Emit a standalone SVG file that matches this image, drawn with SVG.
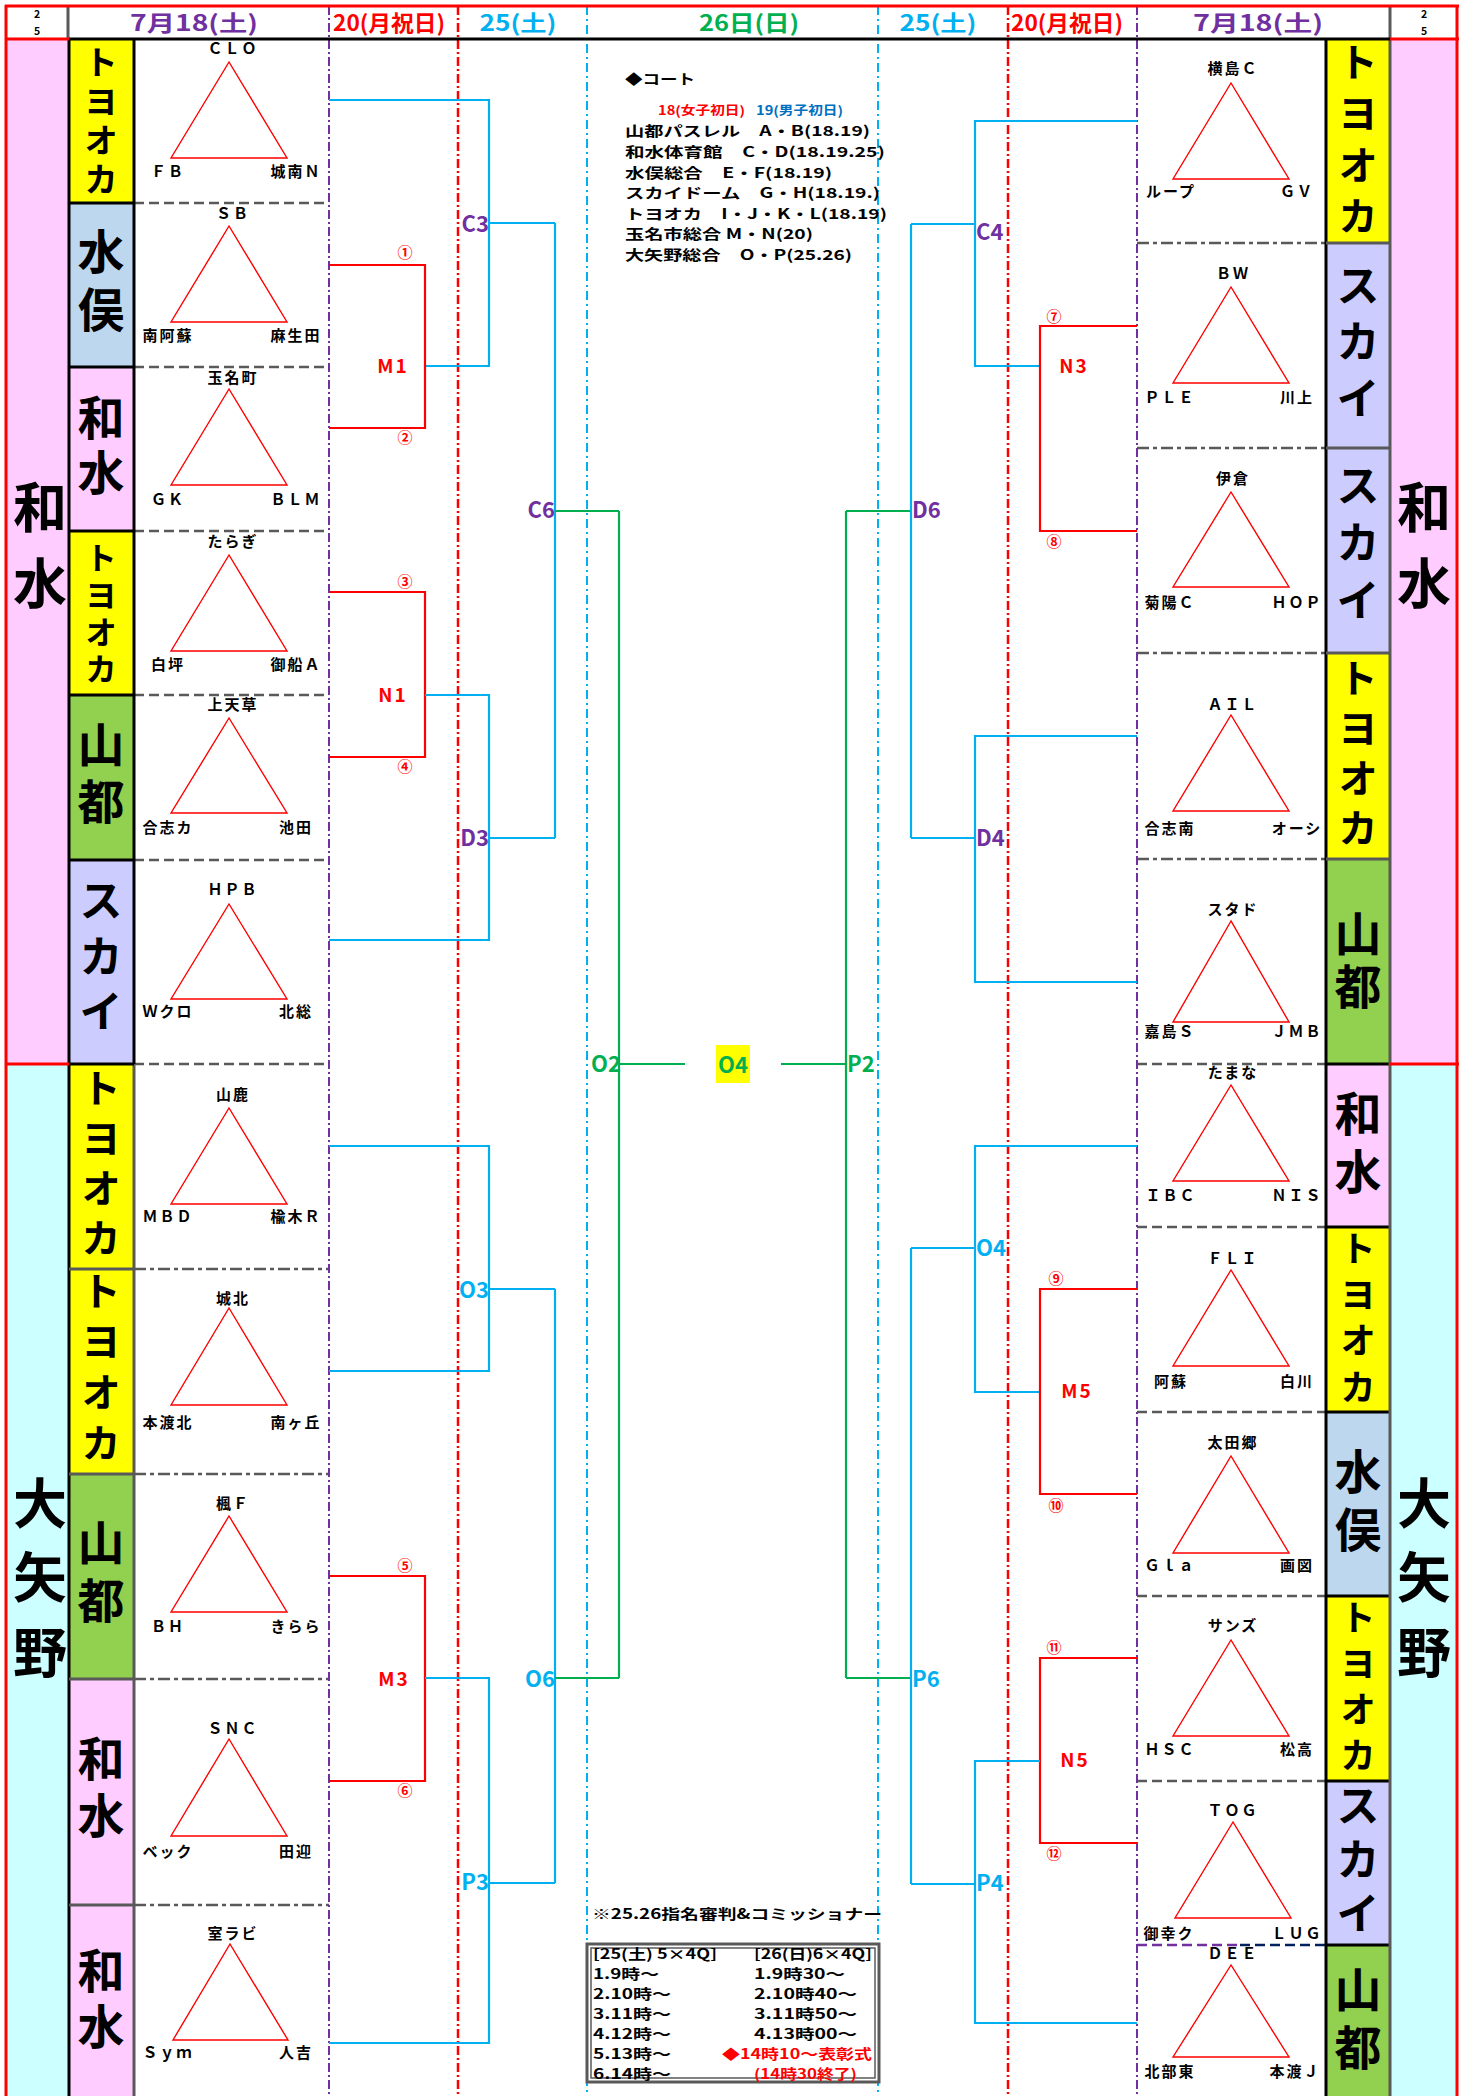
<svg xmlns="http://www.w3.org/2000/svg" width="1467" height="2096" viewBox="0 0 1467 2096">
<style>
text{font-family:"Noto Sans CJK JP","Noto Sans",sans-serif;font-weight:bold;dominant-baseline:central}
.tm{font-size:15px;letter-spacing:2px;text-anchor:middle;fill:#000}
.vt{writing-mode:vertical-rl;text-anchor:middle;fill:#000}
.big{font-size:54px}
.tri{fill:none;stroke:#FF0000;stroke-width:1.4}
.sd{stroke:#595959;stroke-width:2.5;stroke-dasharray:10 5}
.sdd{stroke:#595959;stroke-width:2.5;stroke-dasharray:12 4 4 4}
.vp{stroke:#7030A0;stroke-width:2;stroke-dasharray:9 3 2 3}
.vr{stroke:#FF0000;stroke-width:2.5;stroke-dasharray:9 3 2 3}
.vb{stroke:#00B0F0;stroke-width:2;stroke-dasharray:9 4 2 4}
.bb{fill:none;stroke:#00B0F0;stroke-width:2.2}
.br{fill:none;stroke:#FF0000;stroke-width:2.2}
.bg{fill:none;stroke:#00B050;stroke-width:2.2}
.lp{font-size:22px;fill:#7030A0}
.lc{font-size:22px;fill:#00B0F0}
.lg{font-size:22px;fill:#00B050}
.lr{font-size:19px;fill:#FF0000;text-anchor:middle;letter-spacing:2px}
.cn{font-size:15px;fill:#FF0000;text-anchor:middle}
.hd{font-size:22px;text-anchor:middle}
.nt{font-size:14px;fill:#000}
.ns{font-size:13.8px;fill:#000}
.sm{font-size:10.5px;text-anchor:middle;fill:#000}
</style>
<rect x="0" y="0" width="1467" height="2096" fill="#FFFFFF"/>

<g id="districts">
<rect x="7" y="39" width="62" height="1025" fill="#FFCCFF"/>
<rect x="7" y="1064" width="62" height="1032" fill="#CCFFFF"/>
<rect x="1390" y="39" width="67" height="1025" fill="#FFCCFF"/>
<rect x="1390" y="1064" width="67" height="1032" fill="#CCFFFF"/>
<text class="vt big" x="40" y="556" letter-spacing="22">和水</text>
<text class="vt big" x="40" y="1588" letter-spacing="20.5">大矢野</text>
<text class="vt big" x="1424" y="556" letter-spacing="22">和水</text>
<text class="vt big" x="1424" y="1588" letter-spacing="20.5">大矢野</text>
</g>

<g id="header">
<text class="sm" x="37" y="13">2</text>
<text class="sm" x="37" y="30">5</text>
<text class="sm" x="1424" y="13">2</text>
<text class="sm" x="1424" y="30">5</text>
<text class="hd" x="194" y="21" fill="#7030A0" textLength="128" lengthAdjust="spacingAndGlyphs">7月18(土)</text>
<text class="hd" x="389" y="21" fill="#FF0000" textLength="112" lengthAdjust="spacingAndGlyphs">20(月祝日)</text>
<text class="hd" x="518" y="21" fill="#00B0F0" textLength="77" lengthAdjust="spacingAndGlyphs">25(土)</text>
<text class="hd" x="749" y="21" fill="#00B050" textLength="100" lengthAdjust="spacingAndGlyphs">26日(日)</text>
<text class="hd" x="938" y="21" fill="#00B0F0" textLength="77" lengthAdjust="spacingAndGlyphs">25(土)</text>
<text class="hd" x="1067" y="21" fill="#FF0000" textLength="112" lengthAdjust="spacingAndGlyphs">20(月祝日)</text>
<text class="hd" x="1258" y="21" fill="#7030A0" textLength="130" lengthAdjust="spacingAndGlyphs">7月18(土)</text>
</g>

<g id="separators">
<line class="sd" x1="134" y1="203" x2="329" y2="203"/>
<line class="sd" x1="134" y1="367" x2="329" y2="367"/>
<line class="sd" x1="134" y1="531" x2="329" y2="531"/>
<line class="sd" x1="134" y1="695" x2="329" y2="695"/>
<line class="sd" x1="134" y1="860" x2="329" y2="860"/>
<line class="sd" x1="134" y1="1064" x2="329" y2="1064"/>
<line class="sdd" x1="134" y1="1269" x2="329" y2="1269"/>
<line class="sdd" x1="134" y1="1474" x2="329" y2="1474"/>
<line class="sdd" x1="134" y1="1679" x2="329" y2="1679"/>
<line class="sdd" x1="134" y1="1905" x2="329" y2="1905"/>
<line class="sdd" x1="1137" y1="243" x2="1326" y2="243"/>
<line class="sdd" x1="1137" y1="448" x2="1326" y2="448"/>
<line class="sdd" x1="1137" y1="653" x2="1326" y2="653"/>
<line class="sdd" x1="1137" y1="859" x2="1326" y2="859"/>
<line class="sd" x1="1137" y1="1064" x2="1326" y2="1064"/>
<line class="sd" x1="1137" y1="1227" x2="1326" y2="1227"/>
<line class="sd" x1="1137" y1="1412" x2="1326" y2="1412"/>
<line class="sd" x1="1137" y1="1596" x2="1326" y2="1596"/>
<line class="sd" x1="1137" y1="1781" x2="1326" y2="1781"/>
<line class="sd" x1="1137" y1="1945" x2="1240" y2="1945" style="stroke:#7030A0"/>
<line class="sd" x1="1240" y1="1945" x2="1326" y2="1945" style="stroke:#002060"/>
</g>

<g id="L1">
<rect x="69" y="39" width="65" height="164" fill="#FFFF00"/>
<text class="vt" x="101" y="123" font-size="34" letter-spacing="5">トヨオカ</text>
<polygon class="tri" points="229,62 171,158 287,158"/>
<text class="tm" x="233" y="47">ＣＬＯ</text>
<text class="tm" x="168" y="170">ＦＢ</text>
<text class="tm" x="296" y="170">城南Ｎ</text>
</g>
<g id="L2">
<rect x="69" y="203" width="65" height="164" fill="#BDD7EE"/>
<text class="vt" x="101" y="285.5" font-size="47" letter-spacing="11">水俣</text>
<polygon class="tri" points="229,226 171,322 287,322"/>
<text class="tm" x="233" y="212">ＳＢ</text>
<text class="tm" x="168" y="334">南阿蘇</text>
<text class="tm" x="296" y="334">麻生田</text>
</g>
<g id="L3">
<rect x="69" y="367" width="65" height="164" fill="#FFCCFF"/>
<text class="vt" x="101" y="448.5" font-size="47" letter-spacing="8">和水</text>
<polygon class="tri" points="229,389 171,485 287,485"/>
<text class="tm" x="233" y="376">玉名町</text>
<text class="tm" x="168" y="498">ＧＫ</text>
<text class="tm" x="296" y="498">ＢＬＭ</text>
</g>
<g id="L4">
<rect x="69" y="531" width="65" height="164" fill="#FFFF00"/>
<text class="vt" x="101" y="615.5" font-size="32" letter-spacing="5">トヨオカ</text>
<polygon class="tri" points="229,555 171,651 287,651"/>
<text class="tm" x="233" y="540">たらぎ</text>
<text class="tm" x="168" y="663">白坪</text>
<text class="tm" x="296" y="663">御船Ａ</text>
</g>
<g id="L5">
<rect x="69" y="695" width="65" height="165" fill="#92D050"/>
<text class="vt" x="101" y="777.5" font-size="47" letter-spacing="10">山都</text>
<polygon class="tri" points="229,718 171,813 287,813"/>
<text class="tm" x="233" y="703">上天草</text>
<text class="tm" x="168" y="826">合志カ</text>
<text class="tm" x="296" y="826">池田</text>
</g>
<g id="L6">
<rect x="69" y="860" width="65" height="204" fill="#CCCCFF"/>
<text class="vt" x="101" y="962" font-size="44" letter-spacing="11.5">スカイ</text>
<polygon class="tri" points="229,904 171,999 287,999"/>
<text class="tm" x="233" y="888">ＨＰＢ</text>
<text class="tm" x="168" y="1010">Ｗクロ</text>
<text class="tm" x="296" y="1010">北総</text>
</g>
<g id="L7">
<rect x="69" y="1064" width="65" height="205" fill="#FFFF00"/>
<text class="vt" x="101" y="1167.5" font-size="40" letter-spacing="10">トヨオカ</text>
<polygon class="tri" points="229,1108 171,1204 287,1204"/>
<text class="tm" x="233" y="1093">山鹿</text>
<text class="tm" x="168" y="1215">ＭＢＤ</text>
<text class="tm" x="296" y="1215">楡木Ｒ</text>
</g>
<g id="L8">
<rect x="69" y="1269" width="65" height="205" fill="#FFFF00"/>
<text class="vt" x="101" y="1372" font-size="40" letter-spacing="10.7">トヨオカ</text>
<polygon class="tri" points="229,1308 171,1405 287,1405"/>
<text class="tm" x="233" y="1297">城北</text>
<text class="tm" x="168" y="1421">本渡北</text>
<text class="tm" x="296" y="1421">南ヶ丘</text>
</g>
<g id="L9">
<rect x="69" y="1474" width="65" height="205" fill="#92D050"/>
<text class="vt" x="101" y="1576.5" font-size="47" letter-spacing="11">山都</text>
<polygon class="tri" points="229,1516 171,1612 287,1612"/>
<text class="tm" x="233" y="1502">楓Ｆ</text>
<text class="tm" x="168" y="1625">ＢＨ</text>
<text class="tm" x="296" y="1625">きらら</text>
</g>
<g id="L10">
<rect x="69" y="1679" width="65" height="226" fill="#FFCCFF"/>
<text class="vt" x="101" y="1791.5" font-size="47" letter-spacing="10">和水</text>
<polygon class="tri" points="229,1739 171,1836 287,1836"/>
<text class="tm" x="233" y="1727">ＳＮＣ</text>
<text class="tm" x="168" y="1850">ベック</text>
<text class="tm" x="296" y="1850">田迎</text>
</g>
<g id="L11">
<rect x="69" y="1905" width="65" height="191" fill="#FFCCFF"/>
<text class="vt" x="101" y="2002.5" font-size="47" letter-spacing="9">和水</text>
<polygon class="tri" points="230,1944 173,2040 288,2040"/>
<text class="tm" x="233" y="1932">室ラビ</text>
<text class="tm" x="168" y="2051">Ｓｙｍ</text>
<text class="tm" x="296" y="2051">人吉</text>
</g>

<g id="R1">
<rect x="1326" y="39" width="64" height="204" fill="#FFFF00"/>
<text class="vt" x="1358" y="144.6" font-size="40" letter-spacing="11.3">トヨオカ</text>
<polygon class="tri" points="1231,83 1173,179 1289,179"/>
<text class="tm" x="1233" y="67">横島Ｃ</text>
<text class="tm" x="1171" y="190">ループ</text>
<text class="tm" x="1297" y="190">ＧＶ</text>
</g>
<g id="R2">
<rect x="1326" y="243" width="64" height="205" fill="#CCCCFF"/>
<text class="vt" x="1358" y="347.75" font-size="44" letter-spacing="12.5">スカイ</text>
<polygon class="tri" points="1231,287 1173,383 1289,383"/>
<text class="tm" x="1233" y="272">ＢＷ</text>
<text class="tm" x="1170" y="396">ＰＬＥ</text>
<text class="tm" x="1297" y="396">川上</text>
</g>
<g id="R3">
<rect x="1326" y="448" width="64" height="205" fill="#CCCCFF"/>
<text class="vt" x="1358" y="549.25" font-size="44" letter-spacing="13.5">スカイ</text>
<polygon class="tri" points="1231,492 1173,587 1289,587"/>
<text class="tm" x="1233" y="477">伊倉</text>
<text class="tm" x="1170" y="601">菊陽Ｃ</text>
<text class="tm" x="1297" y="601">ＨＯＰ</text>
</g>
<g id="R4">
<rect x="1326" y="653" width="64" height="206" fill="#FFFF00"/>
<text class="vt" x="1358" y="758" font-size="40" letter-spacing="10">トヨオカ</text>
<polygon class="tri" points="1231,715 1173,811 1289,811"/>
<text class="tm" x="1233" y="703">ＡＩＬ</text>
<text class="tm" x="1170" y="827">合志南</text>
<text class="tm" x="1297" y="827">オーシ</text>
</g>
<g id="R5">
<rect x="1326" y="859" width="64" height="205" fill="#92D050"/>
<text class="vt" x="1358" y="962.5" font-size="47" letter-spacing="6">山都</text>
<polygon class="tri" points="1231,921 1173,1022 1289,1022"/>
<text class="tm" x="1233" y="908">スタド</text>
<text class="tm" x="1170" y="1030">嘉島Ｓ</text>
<text class="tm" x="1297" y="1030">ＪＭＢ</text>
</g>
<g id="R6">
<rect x="1326" y="1064" width="64" height="163" fill="#FFCCFF"/>
<text class="vt" x="1358" y="1147.5" font-size="47" letter-spacing="11">和水</text>
<polygon class="tri" points="1231,1085 1173,1181 1289,1181"/>
<text class="tm" x="1233" y="1071">たまな</text>
<text class="tm" x="1171" y="1194">ＩＢＣ</text>
<text class="tm" x="1297" y="1194">ＮＩＳ</text>
</g>
<g id="R7">
<rect x="1326" y="1227" width="64" height="185" fill="#FFFF00"/>
<text class="vt" x="1358" y="1322.6" font-size="36" letter-spacing="10.3">トヨオカ</text>
<polygon class="tri" points="1231,1270 1173,1366 1289,1366"/>
<text class="tm" x="1233" y="1257">ＦＬＩ</text>
<text class="tm" x="1171" y="1380">阿蘇</text>
<text class="tm" x="1297" y="1380">白川</text>
</g>
<g id="R8">
<rect x="1326" y="1412" width="64" height="184" fill="#BDD7EE"/>
<text class="vt" x="1358" y="1505.5" font-size="47" letter-spacing="11">水俣</text>
<polygon class="tri" points="1231,1456 1173,1553 1289,1553"/>
<text class="tm" x="1233" y="1441">太田郷</text>
<text class="tm" x="1170" y="1564">Ｇｌａ</text>
<text class="tm" x="1297" y="1564">画図</text>
</g>
<g id="R9">
<rect x="1326" y="1596" width="64" height="185" fill="#FFFF00"/>
<text class="vt" x="1358" y="1691" font-size="36" letter-spacing="10">トヨオカ</text>
<polygon class="tri" points="1231,1640 1173,1736 1289,1736"/>
<text class="tm" x="1233" y="1624">サンズ</text>
<text class="tm" x="1170" y="1748">ＨＳＣ</text>
<text class="tm" x="1297" y="1748">松高</text>
</g>
<g id="R10">
<rect x="1326" y="1781" width="64" height="164" fill="#CCCCFF"/>
<text class="vt" x="1358" y="1864" font-size="44" letter-spacing="10">スカイ</text>
<polygon class="tri" points="1233,1822 1175,1918 1291,1918"/>
<text class="tm" x="1233" y="1809">ＴＯＧ</text>
<text class="tm" x="1169" y="1932">御幸ク</text>
<text class="tm" x="1297" y="1932">ＬＵＧ</text>
</g>
<g id="R11">
<rect x="1326" y="1945" width="64" height="151" fill="#92D050"/>
<text class="vt" x="1358" y="2023.5" font-size="47" letter-spacing="11">山都</text>
<polygon class="tri" points="1231,1965 1173,2057 1289,2057"/>
<text class="tm" x="1233" y="1952">ＤＥＥ</text>
<text class="tm" x="1170" y="2070">北部東</text>
<text class="tm" x="1295" y="2070">本渡Ｊ</text>
</g>

<g id="grid">
<line x1="69" y1="39" x2="69" y2="2096" stroke="#000" stroke-width="3"/>
<line x1="134" y1="39" x2="134" y2="1064" stroke="#000" stroke-width="3"/>
<line x1="134" y1="1064" x2="134" y2="2096" stroke="#595959" stroke-width="3"/>
<g stroke="#000" stroke-width="3">
<line x1="69" y1="203" x2="134" y2="203"/>
<line x1="69" y1="367" x2="134" y2="367"/>
<line x1="69" y1="531" x2="134" y2="531"/>
<line x1="69" y1="695" x2="134" y2="695"/>
<line x1="69" y1="860" x2="134" y2="860"/>
<line x1="69" y1="1064" x2="134" y2="1064"/>
<line x1="1326" y1="1064" x2="1390" y2="1064"/>
<line x1="1326" y1="1227" x2="1390" y2="1227"/>
<line x1="1326" y1="1412" x2="1390" y2="1412"/>
<line x1="1326" y1="1596" x2="1390" y2="1596"/>
<line x1="1326" y1="1781" x2="1390" y2="1781"/>
<line x1="1326" y1="1945" x2="1390" y2="1945"/>
<line x1="1326" y1="39" x2="1326" y2="2096"/>
</g>
<g stroke="#595959" stroke-width="3">
<line x1="69" y1="1269" x2="134" y2="1269"/>
<line x1="69" y1="1474" x2="134" y2="1474"/>
<line x1="69" y1="1679" x2="134" y2="1679"/>
<line x1="69" y1="1905" x2="134" y2="1905"/>
<line x1="1326" y1="243" x2="1390" y2="243"/>
<line x1="1326" y1="448" x2="1390" y2="448"/>
<line x1="1326" y1="653" x2="1390" y2="653"/>
<line x1="1326" y1="859" x2="1390" y2="859"/>
<line x1="1390" y1="6" x2="1390" y2="2096"/>
<line x1="68" y1="6" x2="68" y2="39"/>
</g>
<line class="vp" x1="329" y1="6" x2="329" y2="2096"/>
<line class="vr" x1="458" y1="6" x2="458" y2="2096"/>
<line class="vb" x1="587" y1="6" x2="587" y2="2096"/>
<line class="vb" x1="878" y1="6" x2="878" y2="2096"/>
<line class="vr" x1="1008" y1="6" x2="1008" y2="2096"/>
<line class="vp" x1="1137" y1="6" x2="1137" y2="2096"/>
<line x1="69" y1="39" x2="1390" y2="39" stroke="#000" stroke-width="3"/>
<line x1="5" y1="39" x2="69" y2="39" stroke="#FF0000" stroke-width="3"/>
<line x1="1390" y1="39" x2="1459" y2="39" stroke="#FF0000" stroke-width="3"/>
<line x1="5" y1="1064" x2="69" y2="1064" stroke="#FF0000" stroke-width="3"/>
<line x1="1390" y1="1064" x2="1459" y2="1064" stroke="#FF0000" stroke-width="3"/>
<line x1="5" y1="6" x2="1459" y2="6" stroke="#FF0000" stroke-width="3"/>
<line x1="6" y1="5" x2="6" y2="2096" stroke="#FF0000" stroke-width="3"/>
<line x1="1457" y1="5" x2="1457" y2="2096" stroke="#FF0000" stroke-width="3"/>
</g>

<g id="connectors">
<polyline class="bb" points="329,100 489,100 489,366 425,366"/>
<line class="bb" x1="489" y1="223" x2="555" y2="223"/>
<polyline class="br" points="329,265 425,265 425,428 329,428"/>
<polyline class="br" points="329,592 425,592 425,757 329,757"/>
<polyline class="bb" points="425,695 489,695 489,940 329,940"/>
<line class="bb" x1="489" y1="838" x2="555" y2="838"/>
<line class="bb" x1="555" y1="223" x2="555" y2="838"/>
<line class="bg" x1="555" y1="511" x2="619" y2="511"/>
<polyline class="bb" points="329,1146 489,1146 489,1371 329,1371"/>
<line class="bb" x1="489" y1="1289" x2="555" y2="1289"/>
<polyline class="br" points="329,1576 425,1576 425,1781 329,1781"/>
<polyline class="bb" points="425,1678 489,1678 489,2043 329,2043"/>
<line class="bb" x1="489" y1="1883" x2="555" y2="1883"/>
<line class="bb" x1="555" y1="1289" x2="555" y2="1883"/>
<line class="bg" x1="555" y1="1678" x2="619" y2="1678"/>
<line class="bg" x1="619" y1="511" x2="619" y2="1678"/>
<line class="bg" x1="619" y1="1064" x2="685" y2="1064"/>
<line class="bg" x1="781" y1="1064" x2="846" y2="1064"/>
<line class="bg" x1="846" y1="511" x2="846" y2="1678"/>
<line class="bg" x1="846" y1="511" x2="911" y2="511"/>
<line class="bg" x1="846" y1="1678" x2="911" y2="1678"/>
<line class="bb" x1="911" y1="224" x2="911" y2="838"/>
<line class="bb" x1="911" y1="224" x2="975" y2="224"/>
<line class="bb" x1="911" y1="838" x2="975" y2="838"/>
<polyline class="bb" points="1137,121 975,121 975,366 1040,366"/>
<polyline class="br" points="1137,326 1040,326 1040,531 1137,531"/>
<polyline class="bb" points="1137,736 975,736 975,982 1137,982"/>
<line class="bb" x1="911" y1="1248" x2="911" y2="1884"/>
<line class="bb" x1="911" y1="1248" x2="975" y2="1248"/>
<line class="bb" x1="911" y1="1884" x2="975" y2="1884"/>
<polyline class="bb" points="1137,1146 975,1146 975,1392 1040,1392"/>
<polyline class="br" points="1137,1289 1040,1289 1040,1494 1137,1494"/>
<polyline class="br" points="1137,1658 1040,1658 1040,1843 1137,1843"/>
<polyline class="bb" points="1040,1761 975,1761 975,2023 1137,2023"/>
</g>

<g id="match-labels">
<text class="lp" x="489" y="222" text-anchor="end">C3</text>
<text class="lp" x="489" y="836" text-anchor="end">D3</text>
<text class="lp" x="555" y="508" text-anchor="end">C6</text>
<text class="lc" x="489" y="1288" text-anchor="end">O3</text>
<text class="lc" x="489" y="1880" text-anchor="end">P3</text>
<text class="lc" x="555" y="1677" text-anchor="end">O6</text>
<text class="lg" x="621" y="1062" text-anchor="end">O2</text>
<rect x="716" y="1045" width="34" height="38" fill="#FFFF00"/>
<text class="lg" x="733" y="1063" text-anchor="middle">O4</text>
<text class="lg" x="847" y="1062">P2</text>
<text class="lp" x="976" y="230">C4</text>
<text class="lp" x="976" y="836">D4</text>
<text class="lp" x="912" y="508">D6</text>
<text class="lc" x="976" y="1246">O4</text>
<text class="lc" x="976" y="1881">P4</text>
<text class="lc" x="912" y="1677">P6</text>
<text class="lr" x="393" y="364">M1</text>
<text class="lr" x="393" y="693">N1</text>
<text class="lr" x="394" y="1677">M3</text>
<text class="lr" x="1074" y="364">N3</text>
<text class="lr" x="1077" y="1389">M5</text>
<text class="lr" x="1075" y="1758">N5</text>
<text class="cn" x="405" y="251">①</text>
<text class="cn" x="405" y="436">②</text>
<text class="cn" x="405" y="580">③</text>
<text class="cn" x="405" y="765">④</text>
<text class="cn" x="405" y="1564">⑤</text>
<text class="cn" x="405" y="1789">⑥</text>
<text class="cn" x="1054" y="315">⑦</text>
<text class="cn" x="1054" y="540">⑧</text>
<text class="cn" x="1056" y="1277">⑨</text>
<text class="cn" x="1056" y="1504">⑩</text>
<text class="cn" x="1054" y="1646">⑪</text>
<text class="cn" x="1054" y="1852">⑫</text>
</g>

<g id="court-notes">
<text class="nt" x="625" y="78" font-size="15" textLength="70" lengthAdjust="spacingAndGlyphs">◆コート</text>
<text x="658" y="109" font-size="12.5" fill="#FF0000" textLength="87" lengthAdjust="spacingAndGlyphs">18(女子初日)</text>
<text x="756" y="109" font-size="12.5" fill="#0070C0" textLength="87" lengthAdjust="spacingAndGlyphs">19(男子初日)</text>
<text class="nt" x="625" y="130" textLength="245" lengthAdjust="spacingAndGlyphs">山都パスレル　A・B(18.19)</text>
<text class="nt" x="625" y="151" textLength="260" lengthAdjust="spacingAndGlyphs">和水体育館　C・D(18.19.25)</text>
<text class="nt" x="625" y="171.5" textLength="207" lengthAdjust="spacingAndGlyphs">水俣総合　E・F(18.19)</text>
<text class="nt" x="625" y="192" textLength="255" lengthAdjust="spacingAndGlyphs">スカイドーム　G・H(18.19.)</text>
<text class="nt" x="625" y="212.5" textLength="262" lengthAdjust="spacingAndGlyphs">トヨオカ　I・J・K・L(18.19)</text>
<text class="nt" x="625" y="233" textLength="188" lengthAdjust="spacingAndGlyphs">玉名市総合 M・N(20)</text>
<text class="nt" x="625" y="253.5" textLength="227" lengthAdjust="spacingAndGlyphs">大矢野総合　O・P(25.26)</text>
</g>

<g id="schedule">
<text class="nt" x="592" y="1913" font-size="16" textLength="290" lengthAdjust="spacingAndGlyphs">※25.26指名審判&amp;コミッショナー</text>
<rect x="587" y="1944" width="292" height="138" fill="#FFFFFF" stroke="#595959" stroke-width="3"/>
<rect x="591" y="1948" width="284" height="130" fill="none" stroke="#595959" stroke-width="1.5"/>
<text class="ns" x="593" y="1953" textLength="124" lengthAdjust="spacingAndGlyphs">[25(土) 5×4Q]</text>
<text class="ns" x="754" y="1953" textLength="118" lengthAdjust="spacingAndGlyphs">[26(日)6×4Q]</text>
<text class="ns" x="593" y="1973" textLength="66" lengthAdjust="spacingAndGlyphs">1.9時～</text>
<text class="ns" x="593" y="1993" textLength="78" lengthAdjust="spacingAndGlyphs">2.10時～</text>
<text class="ns" x="593" y="2013" textLength="78" lengthAdjust="spacingAndGlyphs">3.11時～</text>
<text class="ns" x="593" y="2033" textLength="78" lengthAdjust="spacingAndGlyphs">4.12時～</text>
<text class="ns" x="593" y="2053" textLength="78" lengthAdjust="spacingAndGlyphs">5.13時～</text>
<text class="ns" x="593" y="2073" textLength="78" lengthAdjust="spacingAndGlyphs">6.14時～</text>
<text class="ns" x="754" y="1973" textLength="91" lengthAdjust="spacingAndGlyphs">1.9時30～</text>
<text class="ns" x="754" y="1993" textLength="103" lengthAdjust="spacingAndGlyphs">2.10時40～</text>
<text class="ns" x="754" y="2013" textLength="103" lengthAdjust="spacingAndGlyphs">3.11時50～</text>
<text class="ns" x="754" y="2033" textLength="103" lengthAdjust="spacingAndGlyphs">4.13時00～</text>
<text class="ns" x="722" y="2053" style="fill:#FF0000" textLength="150" lengthAdjust="spacingAndGlyphs">◆14時10～表彰式</text>
<text class="ns" x="754" y="2073" style="fill:#FF0000" textLength="103" lengthAdjust="spacingAndGlyphs">(14時30終了)</text>
</g>
</svg>
